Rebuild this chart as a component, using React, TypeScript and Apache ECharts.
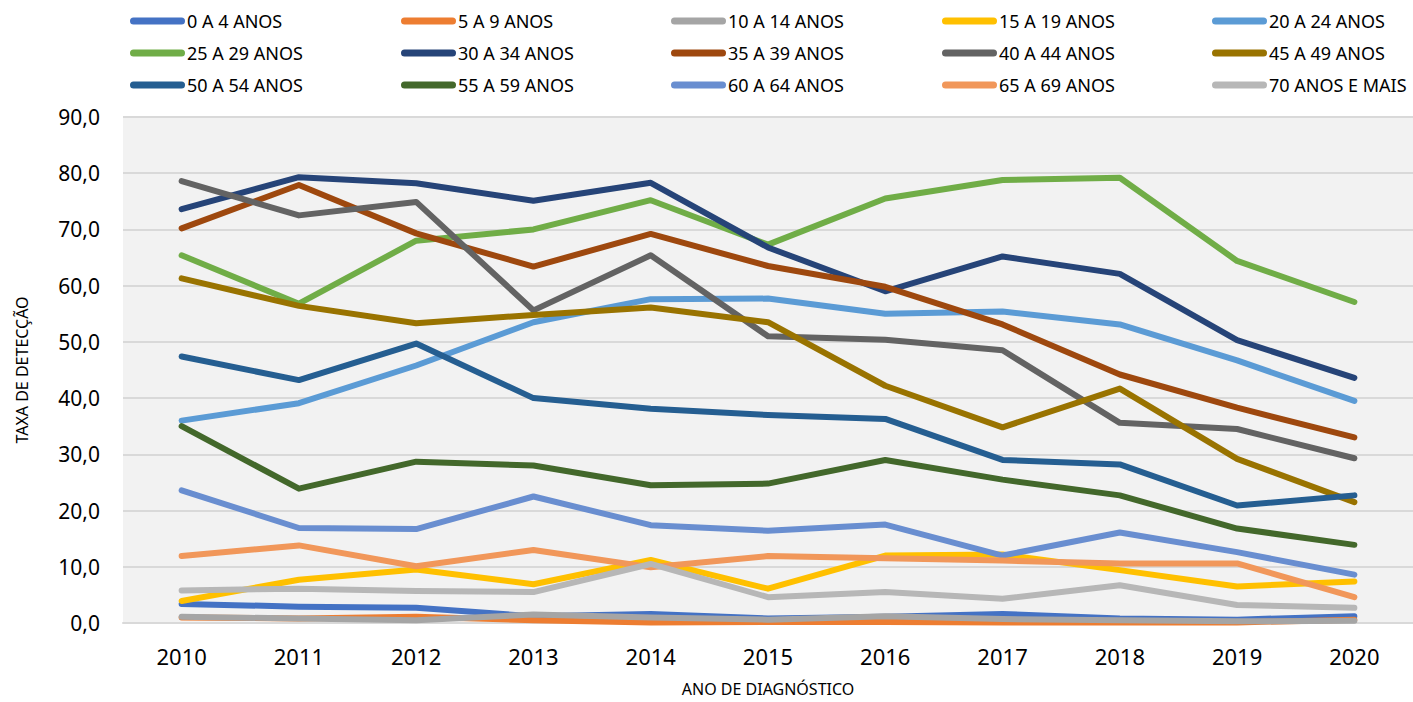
import React, { useEffect, useRef } from "react";
import * as echarts from "echarts";

const years = ["2010", "2011", "2012", "2013", "2014", "2015", "2016", "2017", "2018", "2019", "2020"];

const names = [
  "0 A 4 ANOS", "5 A 9 ANOS", "10 A 14 ANOS", "15 A 19 ANOS", "20 A 24 ANOS",
  "25 A 29 ANOS", "30 A 34 ANOS", "35 A 39 ANOS", "40 A 44 ANOS", "45 A 49 ANOS",
  "50 A 54 ANOS", "55 A 59 ANOS", "60 A 64 ANOS", "65 A 69 ANOS", "70 ANOS E MAIS",
];

const colors = [
  "#4472C4", "#ED7D31", "#A5A5A5", "#FFC000", "#5B9BD5",
  "#70AD47", "#264478", "#9E480E", "#636363", "#997300",
  "#255E91", "#43682B", "#698ED0", "#F1975A", "#B7B7B7",
];

const a0_4 = [3.4, 2.9, 2.7, 1.2, 1.6, 0.8, 1.1, 1.6, 0.8, 0.6, 1.2];
const a5_9 = [1.0, 0.8, 1.1, 0.5, 0.1, 0.2, 0.2, 0.1, 0.1, 0.1, 0.6];
const a10_14 = [1.1, 0.8, 0.5, 1.5, 1.0, 0.6, 1.2, 0.7, 0.5, 0.3, 0.4];
const a15_19 = [3.9, 7.7, 9.5, 6.9, 11.2, 6.1, 12.0, 12.2, 9.4, 6.5, 7.4];
const a20_24 = [36.0, 39.1, 45.8, 53.5, 57.6, 57.7, 55.0, 55.4, 53.1, 46.7, 39.5];
const a25_29 = [65.4, 56.8, 68.0, 70.0, 75.2, 67.3, 75.5, 78.8, 79.2, 64.4, 57.1];
const a30_34 = [73.6, 79.3, 78.2, 75.1, 78.3, 66.8, 59.0, 65.2, 62.1, 50.3, 43.6];
const a35_39 = [70.2, 77.9, 69.3, 63.4, 69.2, 63.5, 59.8, 53.1, 44.2, 38.3, 33.0];
const a40_44 = [78.6, 72.5, 74.9, 55.6, 65.4, 51.0, 50.4, 48.5, 35.6, 34.5, 29.3];
const a45_49 = [61.3, 56.4, 53.3, 54.8, 56.1, 53.5, 42.2, 34.8, 41.7, 29.2, 21.5];
const a50_54 = [47.4, 43.2, 49.7, 40.0, 38.1, 37.0, 36.3, 29.0, 28.2, 20.9, 22.7];
const a55_59 = [35.0, 23.9, 28.7, 28.0, 24.5, 24.8, 29.0, 25.5, 22.7, 16.8, 13.9];
const a60_64 = [23.6, 16.9, 16.7, 22.5, 17.4, 16.4, 17.5, 12.0, 16.1, 12.6, 8.6];
const a65_69 = [11.9, 13.8, 10.1, 13.0, 9.9, 11.9, 11.5, 11.1, 10.6, 10.6, 4.6];
const a70 = [5.8, 6.1, 5.7, 5.5, 10.5, 4.6, 5.5, 4.3, 6.7, 3.2, 2.7];

const seriesData = [
  a0_4, a5_9, a10_14, a15_19, a20_24, a25_29, a30_34, a35_39,
  a40_44, a45_49, a50_54, a55_59, a60_64, a65_69, a70,
];

const FONT = "'Noto Sans', 'Open Sans', sans-serif";

export default function App() {
  const ref = useRef<HTMLDivElement>(null);

  useEffect(() => {
    if (!ref.current) return;
    const chart = echarts.init(ref.current, undefined, { renderer: "svg" });

    const legendLefts = [125, 396, 666, 937, 1207];
    const icon = "path://M3.5,0H51.5A3.5,3.5,0,0,1,51.5,7H3.5A3.5,3.5,0,0,1,3.5,0Z";
    const legends = legendLefts.map((left, col) => ({
      orient: "vertical",
      left,
      top: 6,
      itemWidth: 55,
      itemHeight: 7,
      itemGap: 12,
      icon,
      selectedMode: false,
      data: [names[col], names[col + 5], names[col + 10]],
      textStyle: { fontFamily: FONT, fontSize: 18, color: "#000", lineHeight: 20, padding: [0, 0, 0, -3] },
    }));

    chart.setOption({
      animation: false,
      color: colors,
      textStyle: { fontFamily: FONT },
      legend: legends,
      grid: {
        left: 123,
        top: 117,
        bottom: 79,
        width: 1305,
        show: true,
        backgroundColor: "#F2F2F2",
        borderWidth: 0,
      },
      xAxis: {
        type: "category",
        data: years,
        boundaryGap: true,
        axisLine: { lineStyle: { color: "#D9D9D9", width: 2 } },
        axisTick: { show: false },
        axisLabel: { fontFamily: FONT, fontSize: 22, color: "#000", margin: 22 },
        name: "ANO DE DIAGNÓSTICO",
        nameLocation: "middle",
        nameGap: 58,
        nameTextStyle: { fontFamily: FONT, fontSize: 16, color: "#000" },
      },
      yAxis: {
        type: "value",
        min: 0,
        max: 90,
        interval: 10,
        axisLine: { show: false },
        axisTick: { show: false },
        splitLine: { lineStyle: { color: "#D9D9D9", width: 2 } },
        axisLabel: {
          fontFamily: FONT,
          fontSize: 21,
          color: "#000",
          margin: 23,
          formatter: (v: number) => v.toFixed(1).replace(".", ","),
        },
        name: "TAXA DE DETECÇÃO",
        nameLocation: "middle",
        nameGap: 93,
        nameRotate: 90,
        nameTextStyle: { fontFamily: FONT, fontSize: 16, color: "#000" },
      },
      series: names.map((name, i) => ({
        name,
        type: "line",
        data: seriesData[i],
        symbol: "none",
        lineStyle: { width: 6, color: colors[i], cap: "round", join: "round" },
        itemStyle: { color: colors[i] },
      })),
    });

    return () => chart.dispose();
  }, []);

  return (
    <div
      ref={ref}
      style={{ position: "fixed", left: 0, top: 0, width: 1413, height: 702, background: "#fff" }}
    />
  );
}
